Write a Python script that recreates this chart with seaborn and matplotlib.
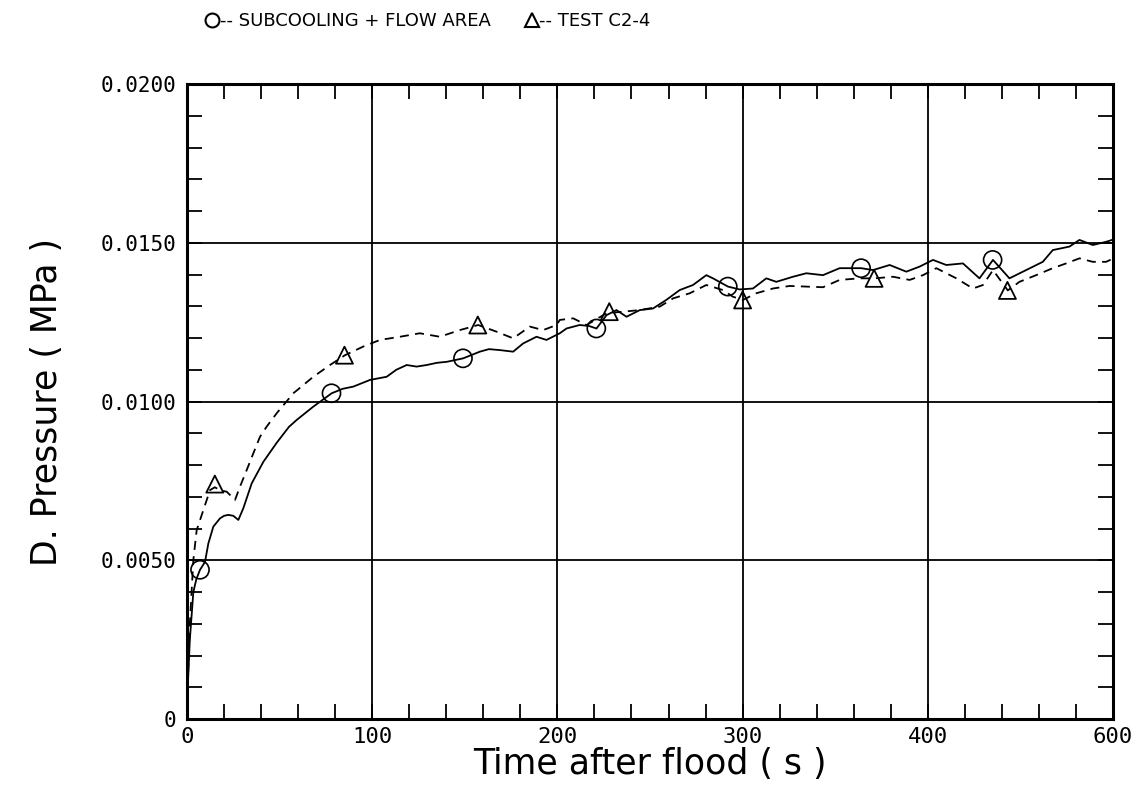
import numpy as np
import pandas as pd
import matplotlib
matplotlib.use("Agg")
import matplotlib.pyplot as plt
from matplotlib.lines import Line2D
from matplotlib.ticker import MultipleLocator, FixedLocator
import seaborn as sns

# ---- data ----
calc_time = [0, 1.5, 3.4, 5, 7, 9.7, 11.5, 14.2, 17.8, 20, 22.3, 25, 27.7, 30.4, 34.9,
             41.2, 48.4, 55, 59.2, 68.2, 78.1, 84, 89.8, 98.8, 107.8, 113, 118.6, 124,
             129.4, 135, 140.2, 149.1, 158.1, 163, 168.9, 176.1, 181.5, 188.7, 194.1,
             201.3, 204.9, 212, 217, 221.1, 226.5, 231.9, 237.3, 244.5, 251.6, 258.8,
             266, 273.2, 280.4, 284, 292.1, 298.4, 305.6, 312.8, 318.2, 327.2, 334.4,
             343.4, 352.4, 364, 370.4, 379.4, 388.4, 395.6, 402.8, 410, 419, 427.9,
             435.2, 444.1, 453.1, 462.1, 467.5, 476.5, 481.9, 489.1, 496.3, 500]
calc_dp = [0.0005, 0.0025, 0.0040, 0.0044, 0.0047, 0.00495, 0.00553, 0.00606, 0.00632,
           0.0064, 0.00643, 0.0064, 0.00627, 0.00664, 0.00742, 0.00810, 0.00870, 0.00920,
           0.00942, 0.00984, 0.01026, 0.01040, 0.01047, 0.01068, 0.01078, 0.01100,
           0.01115, 0.01110, 0.01115, 0.01122, 0.01125, 0.01136, 0.01157, 0.01165,
           0.01162, 0.01157, 0.01183, 0.01204, 0.01194, 0.01215, 0.01230, 0.01241,
           0.01238, 0.01230, 0.01272, 0.01288, 0.01267, 0.01288, 0.01293, 0.01320,
           0.01351, 0.01367, 0.01398, 0.01388, 0.01362, 0.01353, 0.01356, 0.01388,
           0.01377, 0.01393, 0.01404, 0.01398, 0.01420, 0.01420, 0.01414, 0.01430,
           0.01409, 0.01425, 0.01446, 0.01430, 0.01435, 0.01388, 0.01446, 0.01388,
           0.01414, 0.01440, 0.01477, 0.01488, 0.01509, 0.01493, 0.01503, 0.01510]

test_time = [0, 1.5, 3.4, 5.2, 8.8, 12.4, 15, 18, 21.4, 25.9, 28.6, 32.2, 35.8, 39.4, 43,
             48.4, 57.4, 68.2, 77.2, 85.3, 95.1, 104.2, 115, 125.7, 136.5, 147.3, 157.2,
             167.1, 176.1, 185.1, 192.3, 199.5, 201.3, 208.5, 215.7, 226.5, 235.5, 244.5,
             255.3, 262.5, 271.5, 280.4, 289.4, 294.8, 300.2, 307.4, 316.4, 325.4, 334.4,
             343.4, 352.4, 363.2, 371.3, 381.2, 390.2, 397.4, 404.6, 415.4, 424.4, 429.8,
             435.2, 443.2, 449.5, 458.5, 467.5, 474.7, 481.9, 489.1, 496.3, 500]
test_dp = [0.0005, 0.0030, 0.00501, 0.00595, 0.00658, 0.00721, 0.00730, 0.00720, 0.00716,
           0.00690, 0.00732, 0.00784, 0.00837, 0.00889, 0.00921, 0.00963, 0.01026,
           0.01078, 0.01115, 0.01146, 0.01173, 0.01194, 0.01204, 0.01215, 0.01204,
           0.01225, 0.01241, 0.01220, 0.01199, 0.01236, 0.01225, 0.01241, 0.01257,
           0.01262, 0.01241, 0.01278, 0.01283, 0.01288, 0.01299, 0.01325, 0.01341,
           0.01367, 0.01351, 0.01330, 0.01320, 0.01341, 0.01356, 0.01364, 0.01362,
           0.01360, 0.01383, 0.01388, 0.01388, 0.01393, 0.01383, 0.01398, 0.01420,
           0.01388, 0.01356, 0.01367, 0.01414, 0.01350, 0.01377, 0.01398, 0.01420,
           0.01435, 0.01451, 0.01440, 0.01440, 0.01450]

calc_mark_time = [7, 78, 149, 221, 292, 364, 435]
calc_mark_dp = [0.0047, 0.01026, 0.01136, 0.01230, 0.01362, 0.01420, 0.01446]
test_mark_time = [15, 85, 157, 228, 300, 371, 443]
test_mark_dp = [0.00740, 0.01146, 0.01241, 0.01283, 0.01320, 0.01388, 0.01350]

x_ticks = [0, 100, 200, 300, 400, 500]
x_tick_labels = ["0", "100", "200", "300", "400", "600"]
y_ticks = [0, 0.005, 0.010, 0.015, 0.020]
y_tick_labels = ["0", "0.0050", "0.0100", "0.0150", "0.0200"]

label_calc = "SUBCOOLING + FLOW AREA"
label_test = "TEST C2-4"

# ---- style ----
sns.set_theme(style="white")
plt.rcParams['font.family'] = ['DejaVu Sans']
plt.rcParams['text.color'] = 'black'
plt.rcParams['axes.labelcolor'] = 'black'

fig = plt.figure(figsize=(11.35, 7.89), dpi=100)
ax = fig.add_axes([0.1648, 0.0887, 0.8158, 0.8048])

df_calc = pd.DataFrame({"t": calc_time, "p": calc_dp})
df_test = pd.DataFrame({"t": test_time, "p": test_dp})

sns.lineplot(data=df_calc, x="t", y="p", ax=ax, color="black", linewidth=1.3,
             estimator=None, sort=False)
sns.lineplot(data=df_test, x="t", y="p", ax=ax, color="black", linewidth=1.3,
             estimator=None, sort=False, dashes=False)
ax.lines[1].set_linestyle((0, (5, 3.5)))

sns.scatterplot(x=calc_mark_time, y=calc_mark_dp, ax=ax, marker="o", s=170,
                facecolor="none", edgecolor="black", linewidth=1.2, zorder=5)
sns.scatterplot(x=test_mark_time, y=test_mark_dp, ax=ax, marker="^", s=150,
                facecolor="none", edgecolor="black", linewidth=1.3, zorder=5)

ax.set_xlim(0, 500)
ax.set_ylim(0, 0.02)
ax.xaxis.set_major_locator(FixedLocator(x_ticks))
ax.set_xticklabels(x_tick_labels, fontsize=16, family="DejaVu Sans Mono")
ax.yaxis.set_major_locator(FixedLocator(y_ticks))
ax.set_yticklabels(y_tick_labels, fontsize=15, family="DejaVu Sans Mono")
ax.xaxis.set_minor_locator(MultipleLocator(20))
ax.yaxis.set_minor_locator(MultipleLocator(0.001))
ax.tick_params(which="both", direction="in", top=True, right=True, bottom=True,
               left=True, length=11, width=1.3, color="black", labelcolor="black")
ax.tick_params(axis="x", which="major", pad=6)
ax.tick_params(axis="y", which="major", pad=8)

ax.grid(True, which="major", color="black", linewidth=1.3)
for s in ax.spines.values():
    s.set_visible(True)
    s.set_color("black")
    s.set_linewidth(2.2)

ax.set_xlabel("Time after flood ( s )", fontsize=25, labelpad=0, color="black")
ax.set_ylabel("D. Pressure ( MPa )", fontsize=25, labelpad=26, color="black")

handles = [Line2D([], [], marker="o", linestyle="none", markerfacecolor="none",
                  markeredgecolor="black", markersize=10, markeredgewidth=1.5),
           Line2D([], [], marker="^", linestyle="none", markerfacecolor="none",
                  markeredgecolor="black", markersize=10, markeredgewidth=1.5)]
leg = fig.legend(handles, ["-- " + label_calc, "-- " + label_test], loc="upper left",
                 bbox_to_anchor=(0.168, 1.005), ncol=2, frameon=False,
                 handlelength=0.6, handletextpad=0.1, columnspacing=2.0,
                 prop={"size": 13})
for t in leg.get_texts():
    t.set_color("black")

fig.savefig("out.png", dpi=100, facecolor="white")
